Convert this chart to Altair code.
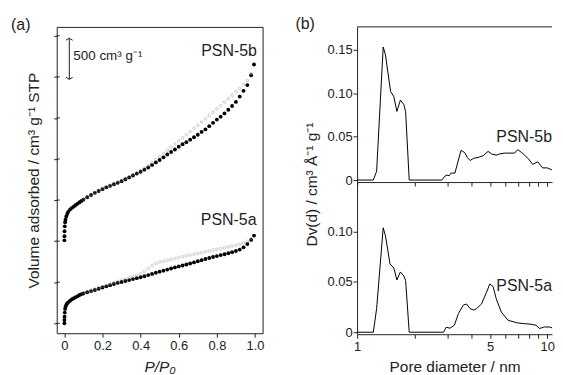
import altair as alt
import pandas as pd

# ---------------- data (a): N2 isotherms (PSN-5b offset by +1000) ----------------
P_ads = [0.0002, 0.0005, 0.001, 0.002, 0.004, 0.006, 0.01, 0.015, 0.02, 0.03, 0.04, 0.05,
         0.06, 0.07, 0.08, 0.09,
         0.10, 0.12, 0.14, 0.16, 0.18, 0.20, 0.22, 0.24, 0.26, 0.28, 0.30, 0.32, 0.34, 0.36,
         0.38, 0.40, 0.42, 0.44, 0.46, 0.48, 0.50, 0.52, 0.54, 0.56, 0.58, 0.60, 0.62, 0.64,
         0.66, 0.68, 0.70, 0.72, 0.74, 0.76, 0.78, 0.80, 0.82, 0.84, 0.86, 0.88, 0.90, 0.92,
         0.94, 0.96, 0.98, 0.995]
V_5a_ads = [0, 40, 80, 130, 175, 200, 224, 242, 255, 275, 292, 305, 318, 330, 345, 355,
            363, 378, 392, 405, 421, 436, 450, 464, 478, 492, 503, 515, 526, 538,
            549, 560, 573, 587, 601, 615, 628, 641, 654, 667, 680, 692, 704, 716,
            728, 741, 755, 768, 782, 795, 807, 818, 830, 841, 853, 866, 880, 897,
            925, 965, 1015, 1068]
V_5b_ads = [1010, 1060, 1120, 1180, 1230, 1260, 1300, 1330, 1355, 1385, 1405, 1422, 1440, 1457, 1474, 1490,
            1505, 1534, 1562, 1588, 1610, 1633, 1655, 1673, 1692, 1710, 1730, 1753, 1776, 1799,
            1822, 1845, 1870, 1897, 1928, 1958, 1988, 2020, 2055, 2085, 2115, 2150, 2180, 2205,
            2235, 2265, 2295, 2330, 2360, 2400, 2440, 2480, 2515, 2555, 2600, 2645, 2695, 2760,
            2830, 2900, 3020, 3150]

P_des = [0.10, 0.12, 0.14, 0.16, 0.18, 0.20, 0.22, 0.24, 0.26, 0.28, 0.30, 0.32, 0.34, 0.36,
         0.38, 0.40, 0.42, 0.44, 0.46, 0.48, 0.50, 0.52, 0.54, 0.56, 0.58, 0.60, 0.62, 0.64,
         0.66, 0.68, 0.70, 0.72, 0.74, 0.76, 0.78, 0.80, 0.82, 0.84, 0.86, 0.88, 0.90, 0.92,
         0.94, 0.96, 0.98]
V_5a_des = [372, 388, 403, 418, 434, 450, 465, 480, 496, 511, 526, 540, 555, 570,
            586, 605, 632, 668, 705, 730, 745, 756, 767, 778, 789, 800, 810, 820,
            830, 840, 850, 860, 870, 880, 890, 900, 910, 920, 930, 940, 950, 962,
            978, 998, 1030]
V_5b_des = [1510, 1540, 1568, 1594, 1617, 1640, 1662, 1682, 1702, 1722, 1742, 1764, 1787, 1810,
            1834, 1860, 1888, 1920, 1955, 1992, 2030, 2068, 2106, 2144, 2182, 2220, 2258, 2296,
            2334, 2372, 2410, 2450, 2490, 2530, 2570, 2610, 2650, 2692, 2734, 2776, 2818, 2860,
            2905, 2955, 3040]

# ---------------- data (b): pore size distributions ----------------
D_5b = [1.00, 1.217, 1.267, 1.372, 1.41, 1.50, 1.56, 1.62, 1.69, 1.76, 1.80, 1.88, 2.79, 2.90,
        2.97, 3.05, 3.12, 3.27, 3.52, 3.60, 3.70, 3.80, 3.93, 4.10, 4.33, 4.60, 4.89, 5.10,
        5.40, 5.60, 5.97, 6.30, 6.74, 7.00, 7.30, 7.61, 8.00, 8.39, 8.92, 9.45, 10.0, 10.5,
        10.9, 11.6]
DV_5b = [0, 0, 0.0103, 0.153, 0.144, 0.102, 0.096, 0.079, 0.092, 0.087, 0.079, 0, 0, 0.0046,
         0.0057, 0.005, 0.008, 0.008, 0.034, 0.033, 0.031, 0.026, 0.0225, 0.025, 0.026, 0.028, 0.033, 0.030,
         0.0286, 0.030, 0.031, 0.031, 0.031, 0.035, 0.032, 0.0286, 0.024, 0.018, 0.021, 0.014, 0.014, 0.012,
         0.011, 0.0095]

D_5a = [1.00, 1.217, 1.267, 1.372, 1.41, 1.49, 1.56, 1.62, 1.69, 1.76, 1.80, 1.88, 2.85, 2.94,
        3.08, 3.25, 3.41, 3.62, 3.77, 3.93, 4.10, 4.25, 4.51, 4.80, 4.99, 5.19, 5.40, 5.74,
        6.22, 7.00, 7.60, 8.23, 8.74, 9.10, 9.66, 10.3, 11.1, 11.6]
DV_5a = [0, 0, 0.0235, 0.104, 0.096, 0.068, 0.064, 0.052, 0.060, 0.056, 0.0515, 0, 0, 0.005,
         0.004, 0.007, 0.0185, 0.027, 0.028, 0.0235, 0.022, 0.0235, 0.028, 0.040, 0.048, 0.0455, 0.033, 0.020,
         0.0119, 0.0092, 0.0085, 0.0079, 0.0069, 0.0037, 0.0052, 0.0052, 0.003, 0.0027]

iso_ticks = [0, 500, 1000, 1500, 2000, 2500, 3000, 3500]
pp_ticks = [0, 0.2, 0.4, 0.6, 0.8, 1.0]
d_ticks = [1, 2, 3, 4, 5, 6, 7, 8, 9, 10]

FONT = "Liberation Sans"
INK = "#222222"

ads = pd.DataFrame({"P": P_ads + P_ads, "V": V_5a_ads + V_5b_ads})
des = pd.DataFrame({"P": P_des + P_des, "V": V_5a_des + V_5b_des})
psd_b = pd.DataFrame({"d": D_5b, "dv": DV_5b})
psd_a = pd.DataFrame({"d": D_5a, "dv": DV_5a})

# ---------------- panel (a) ----------------
xs_a = alt.Scale(domain=[-0.04, 1.04], nice=False, zero=False)
ys_a = alt.Scale(domain=[-121, 3608], nice=False, zero=False)

x_axis_a = alt.Axis(values=pp_ticks, labelExpr="datum.value == 0 ? '0' : format(datum.value, '.1f')",
                    title="P/P₀", titleFontStyle="italic", titleY=33, titleBaseline="middle",
                    domain=False, tickSize=4, labelPadding=2, labelFlush=False, grid=False)
y_axis_a = alt.Axis(values=iso_ticks, labels=False, tickSize=3, domain=False, grid=False,
                    title="Volume adsorbed / cm³ g⁻¹ STP", titleX=-23, titleY=154,
                    titleAngle=-90, titleBaseline="middle", titleAlign="center")

ads_pts = alt.Chart(ads).mark_circle(color="black", size=15, opacity=1).encode(
    x=alt.X("P:Q", scale=xs_a, axis=x_axis_a),
    y=alt.Y("V:Q", scale=ys_a, axis=y_axis_a),
)
des_pts = alt.Chart(des).mark_point(shape="circle", filled=False, color="#8a8a8a", size=7,
                                    strokeWidth=0.6).encode(
    x=alt.X("P:Q"), y=alt.Y("V:Q"),
)
inner_ticks = alt.Chart(pd.DataFrame({"V": iso_ticks})).mark_rule(color=INK, strokeWidth=1).encode(
    y=alt.Y("V:Q"), x=alt.value(0), x2=alt.value(3))

bar_df = pd.DataFrame({"P": [0.026], "V": [3470], "V2": [2970]})
bar = alt.Chart(bar_df).mark_rule(color=INK, strokeWidth=1).encode(
    x=alt.X("P:Q"), y=alt.Y("V:Q"), y2="V2:Q")
head_up = alt.Chart(bar_df).mark_point(shape="M -1 0.6 L 0 0 L 1 0.6", filled=False, color=INK,
                                       size=45, strokeWidth=1, opacity=1).encode(
    x=alt.X("P:Q"), y=alt.Y("V:Q"))
head_dn = alt.Chart(bar_df).mark_point(shape="M -1 -0.6 L 0 0 L 1 -0.6", filled=False, color=INK,
                                       size=45, strokeWidth=1, opacity=1).encode(
    x=alt.X("P:Q"), y=alt.Y("V2:Q"))

lab_a = pd.DataFrame({"P": [1.01, 1.008], "V": [3320, 1256], "t": ["PSN-5b", "PSN-5a"]})
labels_a = alt.Chart(lab_a).mark_text(align="right", baseline="middle", fontSize=16,
                                      color=INK).encode(x=alt.X("P:Q"), y=alt.Y("V:Q"), text="t:N")
sc_df = pd.DataFrame({"P": [0.047], "V": [3249], "t": ["500 cm³ g⁻¹"]})
scale_txt = alt.Chart(sc_df).mark_text(align="left", baseline="middle", fontSize=13.5,
                                       color=INK).encode(x=alt.X("P:Q"), y=alt.Y("V:Q"), text="t:N")
tag_a = alt.Chart(pd.DataFrame({"t": ["(a)"]})).mark_text(align="left", baseline="middle",
                                                         fontSize=16, color=INK).encode(
    x=alt.value(-46), y=alt.value(-2), text="t:N")

left = alt.layer(ads_pts, des_pts, inner_ticks, bar, head_up, head_dn, labels_a, scale_txt, tag_a).properties(
    width=207, height=308, view=alt.ViewBackground(stroke=INK, strokeWidth=1))

# ---------------- panel (b) ----------------
WB = 196
xs_b = alt.Scale(type="log", domain=[1, 10.6], nice=False)
ys_top = alt.Scale(domain=[-0.0023, 0.1762], nice=False, zero=False)
ys_bot = alt.Scale(domain=[-0.002, 0.1495], nice=False, zero=False)
ylab = "datum.value == 0 ? '0' : format(datum.value, '.2f')"

top_line = alt.Chart(psd_b).mark_line(color="black", strokeWidth=1, clip=True).encode(
    x=alt.X("d:Q", scale=xs_b, axis=alt.Axis(values=d_ticks, labels=False, title=None, tickSize=4,
                                             domain=True, grid=False)),
    y=alt.Y("dv:Q", scale=ys_top, axis=alt.Axis(values=[0, 0.05, 0.10, 0.15], labelExpr=ylab,
                                                tickSize=4, labelPadding=1, grid=False,
                                                title="Dv(d) / cm³ Å⁻¹ g⁻¹", titleX=-46, titleY=158,
                                                titleAngle=-90, titleBaseline="middle",
                                                titleAlign="center")),
    order="d:Q",
)
top_rule = alt.Chart(pd.DataFrame({"v": [0]})).mark_rule(color=INK, strokeWidth=1).encode(
    x=alt.value(0), x2=alt.value(WB), y=alt.value(0))
lab_b = pd.DataFrame({"d": [5.40], "dv": [0.0492], "t": ["PSN-5b"]})
top_lab = alt.Chart(lab_b).mark_text(align="left", baseline="middle", fontSize=16, color=INK).encode(
    x=alt.X("d:Q"), y=alt.Y("dv:Q"), text="t:N")
tag_b = alt.Chart(pd.DataFrame({"t": ["(b)"]})).mark_text(align="left", baseline="middle",
                                                         fontSize=16, color=INK).encode(
    x=alt.value(-62), y=alt.value(-3), text="t:N")
top = alt.layer(top_line, top_rule, top_lab, tag_b).properties(width=WB, height=156)

bot_line = alt.Chart(psd_a).mark_line(color="black", strokeWidth=1, clip=True).encode(
    x=alt.X("d:Q", scale=xs_b, axis=alt.Axis(values=d_ticks, labelOverlap=False, labelFlush=False,
                                             labelExpr="datum.value == 1 || datum.value == 5 || datum.value == 10 ? format(datum.value, 'd') : ''",
                                             title="Pore diameter / nm", titleY=32, titleBaseline="middle",
                                             tickSize=4, labelPadding=2, grid=False)),
    y=alt.Y("dv:Q", scale=ys_bot, axis=alt.Axis(values=[0, 0.05, 0.10], labelExpr=ylab, tickSize=4,
                                                labelPadding=1, grid=False, title=None)),
    order="d:Q",
)
lab_a2 = pd.DataFrame({"d": [5.40], "dv": [0.0457], "t": ["PSN-5a"]})
bot_lab = alt.Chart(lab_a2).mark_text(align="left", baseline="middle", fontSize=16, color=INK).encode(
    x=alt.X("d:Q"), y=alt.Y("dv:Q"), text="t:N")
bot = alt.layer(bot_line, bot_lab).properties(width=WB, height=153)

right = alt.vconcat(top, bot, spacing=0, bounds="flush")

chart = alt.hconcat(left, right, spacing=95, bounds="flush").properties(
    padding={"left": 2, "top": 6, "right": 0, "bottom": 0}
).configure_view(stroke="transparent").configure_axis(
    labelFont=FONT, titleFont=FONT, labelFontSize=13, titleFontSize=15.5, titleFontWeight="normal",
    labelColor=INK, titleColor=INK, domainColor=INK, tickColor=INK, domainWidth=1, tickWidth=1
).configure_text(font=FONT)

chart.save("out.html", embed_options={"renderer": "svg", "actions": False})
